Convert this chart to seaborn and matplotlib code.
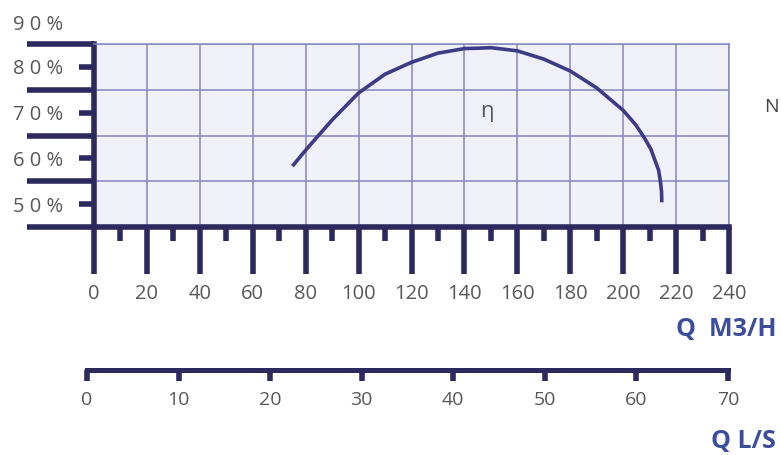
import matplotlib
matplotlib.use("Agg")
import matplotlib.pyplot as plt
import numpy as np
import seaborn as sns

# efficiency curve (Q in m3/h, eta in %)
q_m3h = [75, 80, 90, 100, 110, 120, 130, 140, 146, 150, 160, 170, 180, 190, 200,
         204.8, 208, 210.5, 212, 213.4, 214, 214.5, 214.6]
eta = [58.3, 61.8, 68.4, 74.3, 78.4, 81.0, 83.0, 84.0, 84.1, 84.2, 83.5, 81.7, 79.1, 75.4, 70.5,
       67.3, 64.5, 62.0, 59.6, 57.4, 55.2, 52.8, 50.4]

x_major = list(range(0, 241, 20))
x_minor = list(range(10, 231, 20))
y_major = [45, 55, 65, 75, 85]
y_labeled = [50, 60, 70, 80]
y_labels = ["5 0 %", "6 0 %", "7 0 %", "8 0 %"]
top_label = "9 0 %"
ls_ticks = list(range(0, 71, 10))

navy = "#2b295e"
curve_col = "#3d3b86"
grid_col = "#8587bd"
text_col = "#585858"
blue = "#3b4d9c"

sns.set_theme(style="white")
plt.rcParams["font.family"] = ["Open Sans", "DejaVu Sans"]

fig = plt.figure(figsize=(7.81, 4.55), dpi=100)
ax = fig.add_axes([94 / 781, 1 - 227 / 455, 635 / 781, 183 / 455])
ax.set_facecolor("#eff0f8")

sns.lineplot(x=q_m3h, y=eta, ax=ax, color=curve_col, linewidth=2.6, sort=False,
             solid_capstyle="butt", solid_joinstyle="round")

ax.set_xlim(0, 240)
ax.set_ylim(45, 85)
ax.set_xticks(x_major)
ax.set_xticks(x_minor, minor=True)
ax.set_xticklabels([str(v) for v in x_major])
ax.set_yticks(y_major)
ax.set_yticklabels([])
ax.set_yticks(y_labeled, minor=True)
ax.set_yticklabels(y_labels, minor=True)

ax.grid(True, which="major", color=grid_col, linewidth=1.1)
ax.set_axisbelow(True)

for s in ["top", "right"]:
    ax.spines[s].set_color(grid_col)
    ax.spines[s].set_linewidth(1.1)
for s in ["left", "bottom"]:
    ax.spines[s].set_color(navy)
    ax.spines[s].set_linewidth(4)

ax.tick_params(axis="x", which="major", direction="out", length=34, width=4,
               color=navy, pad=7, labelsize=14.5, labelcolor=text_col, bottom=True)
ax.tick_params(axis="x", which="minor", direction="out", length=10, width=4,
               color=navy, bottom=True)
ax.tick_params(axis="y", which="major", direction="out", length=48, width=4,
               color=navy, left=True)
ax.tick_params(axis="y", which="minor", direction="out", length=11, width=4,
               color=navy, pad=11, labelsize=14.5, labelcolor=text_col, left=True)

ax.annotate(top_label, xy=(0, 90), xycoords=("axes fraction", "data"),
            xytext=(-22, -3), textcoords="offset points", ha="right", va="center",
            fontsize=14.5, color=text_col, annotation_clip=False)

ax.text(148.5, 70.3, "η", ha="center", va="center", fontsize=16, color=text_col)

# second axis in L/S
ax2 = fig.add_axes([87 / 781, 1 - 370 / 455, 641 / 781, 1 / 455])
ax2.patch.set_visible(False)
ax2.set_xlim(0, 70)
ax2.set_xticks(ls_ticks)
ax2.set_xticklabels([str(v) for v in ls_ticks])
ax2.set_yticks([])
for s in ["top", "right", "left"]:
    ax2.spines[s].set_visible(False)
ax2.spines["bottom"].set_color(navy)
ax2.spines["bottom"].set_linewidth(3.6)
ax2.tick_params(axis="x", direction="out", length=8, width=4, color=navy, pad=7,
                labelsize=14, labelcolor=text_col, bottom=True)

fig.text(776 / 781, 1 - 330 / 455, "Q  M3/H", ha="right", va="center",
         fontsize=18, fontweight="bold", color=blue)
fig.text(776 / 781, 1 - 441 / 455, "Q L/S", ha="right", va="center",
         fontsize=18, fontweight="bold", color=blue)
fig.text(779 / 781, 1 - 107 / 455, "N", ha="right", va="center",
         fontsize=14, color="#444444")

fig.savefig("out.png", dpi=100)
